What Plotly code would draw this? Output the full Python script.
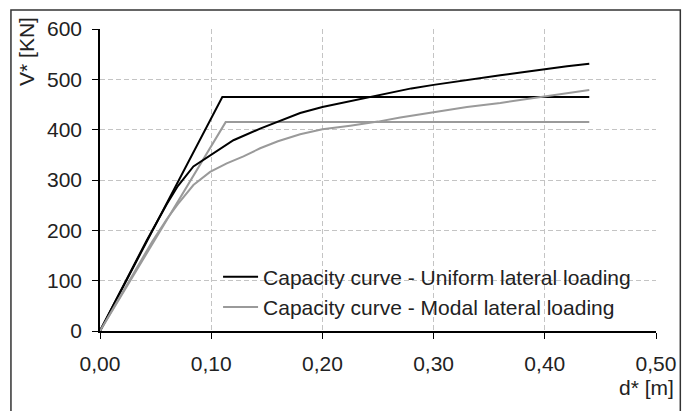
import plotly.graph_objects as go

# Pushover capacity curves (d* in m, V* in kN)
d_uniform = [0.000, 0.022, 0.042, 0.060, 0.070, 0.084, 0.099, 0.120, 0.144, 0.165, 0.180, 0.200,
             0.225, 0.245, 0.260, 0.280, 0.300, 0.330, 0.360, 0.380, 0.402, 0.420, 0.440]
V_uniform = [0, 95, 180, 252, 288, 327, 349, 379, 402, 421, 433, 445,
             457, 466, 473, 482, 489, 499, 508, 514, 521, 526, 531]

d_modal = [0.000, 0.024, 0.047, 0.060, 0.070, 0.084, 0.099, 0.114, 0.129, 0.144, 0.160,
           0.180, 0.200, 0.225, 0.250, 0.270, 0.300, 0.330, 0.360, 0.384, 0.410, 0.440]
V_modal = [0, 92, 178, 222, 252, 290, 316, 333, 347, 363, 377,
           391, 401, 408, 416, 424, 435, 445, 453, 461, 469, 479]

# Idealised elasto-perfectly-plastic (bilinear) curves
d_bilin_uniform = [0.000, 0.110, 0.440]
V_bilin_uniform = [0, 465, 465]
d_bilin_modal = [0.000, 0.113, 0.440]
V_bilin_modal = [0, 415, 415]

x_ticks = [0.0, 0.1, 0.2, 0.3, 0.4, 0.5]
y_ticks = [0, 100, 200, 300, 400, 500, 600]

names = ["Capacity curve - Uniform lateral loading", "Capacity curve - Modal lateral loading"]
BLACK = "#000000"
GREY = "#9a9a9a"
FONT = "Liberation Sans, Arial, sans-serif"

fig = go.Figure()
fig.add_trace(go.Scatter(x=d_bilin_uniform, y=V_bilin_uniform, mode="lines",
                         line=dict(color=BLACK, width=2), showlegend=False))
fig.add_trace(go.Scatter(x=d_bilin_modal, y=V_bilin_modal, mode="lines",
                         line=dict(color=GREY, width=2), showlegend=False))
fig.add_trace(go.Scatter(x=d_uniform, y=V_uniform, mode="lines", name=names[0],
                         line=dict(color=BLACK, width=2)))
fig.add_trace(go.Scatter(x=d_modal, y=V_modal, mode="lines", name=names[1],
                         line=dict(color=GREY, width=2)))

# plot area in pixels: x 100..655.7, y 29..331.5
L, R, T, B = 100, 655.7, 29, 331.5
W, H = R - L, B - T


def px(p):
    return (p - L) / W


def py(q):
    return (B - q) / H


axis_common = dict(
    showline=True, linecolor=BLACK, linewidth=1.5,
    ticks="outside", ticklen=6, tickcolor=BLACK, tickwidth=1,
    showgrid=True, gridcolor="#c4c4c4", gridwidth=1, griddash="5px,3px",
    zeroline=False, tickfont=dict(family=FONT, size=21, color="#222222"),
    mirror=False,
)

fig.update_layout(
    width=693, height=411,
    margin=dict(l=L, r=693 - R, t=T, b=411 - B),
    paper_bgcolor="white", plot_bgcolor="white",
    separators=",.",
    font=dict(family=FONT, size=21, color="#222222"),
    xaxis=dict(range=[0, 0.5], tickvals=x_ticks, tickformat=".2f",
               ticklabelstandoff=7, **axis_common),
    yaxis=dict(range=[0, 600], tickvals=y_ticks, ticklabelstandoff=6, **axis_common),
    showlegend=True,
    legend=dict(x=px(218), y=py(257), xanchor="left", yanchor="top",
                bgcolor="rgba(255,255,255,0)", borderwidth=0, itemwidth=35,
                font=dict(family=FONT, size=21, color="#222222"),
                tracegroupgap=0),
    annotations=[
        dict(text="V* [KN]", x=px(27), y=py(51), xref="paper", yref="paper",
             textangle=-90, showarrow=False, xanchor="center", yanchor="middle",
             font=dict(family=FONT, size=21, color="#222222")),
        dict(text="d* [m]", x=px(676), y=py(388), xref="paper", yref="paper",
             showarrow=False, xanchor="right", yanchor="middle",
             font=dict(family=FONT, size=21, color="#222222")),
    ],
    shapes=[
        # blank area behind the legend, hiding the grid but not the data
        dict(type="rect", xref="paper", yref="paper",
             x0=px(197), x1=px(645), y0=py(322), y1=py(262),
             line=dict(width=0), fillcolor="white", layer="between"),
        # outer frame (bottom edge lies below the visible page)
        dict(type="rect", xref="paper", yref="paper",
             x0=px(11), x1=px(680), y0=py(430), y1=py(10),
             line=dict(color="#333333", width=1.5), fillcolor="rgba(0,0,0,0)",
             layer="above"),
    ],
)

fig.write_html("out.html")
